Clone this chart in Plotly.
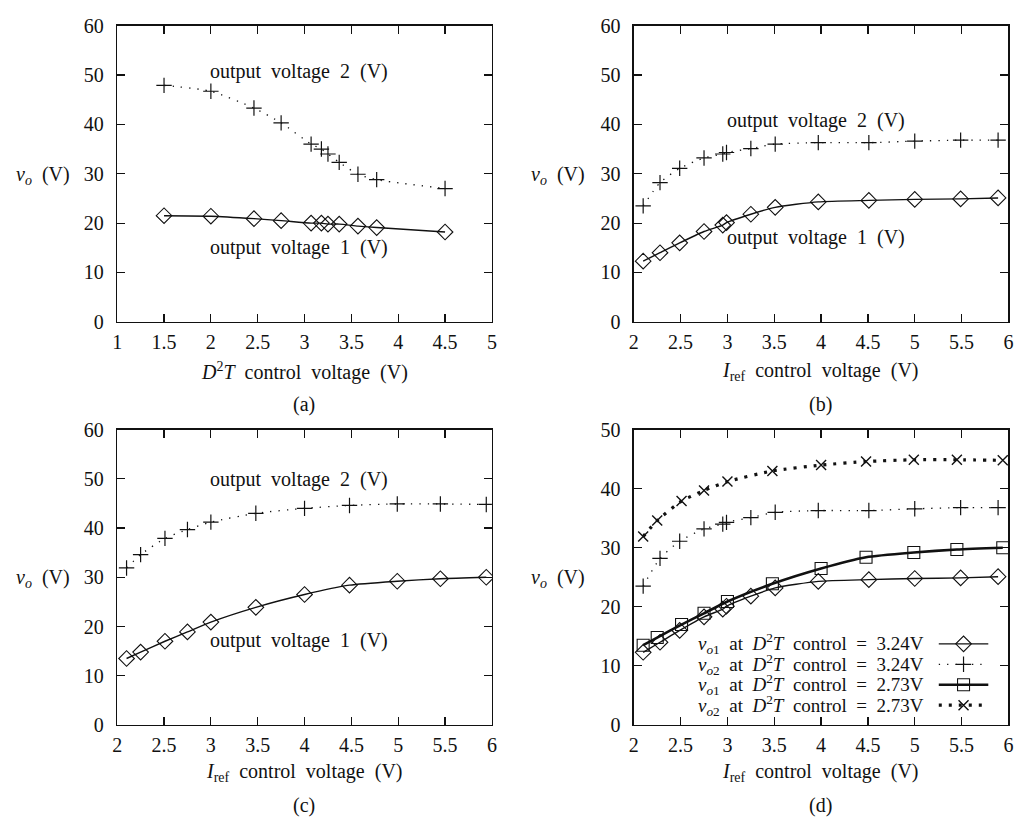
import plotly.graph_objects as go

# ---------------- data ----------------
# (a) vs D2T control voltage
a_x = [1.5, 2.0, 2.46, 2.75, 3.07, 3.18, 3.25, 3.37, 3.57, 3.77, 4.5]
a_v2 = [47.9, 46.7, 43.3, 40.3, 36.0, 35.0, 34.0, 32.3, 29.9, 28.8, 27.0]
a_v1 = [21.5, 21.4, 20.9, 20.5, 20.0, 20.0, 19.8, 19.8, 19.4, 19.1, 18.2]

# (b) vs Iref at D2T control = 3.24 V
b_x = [2.1, 2.28, 2.49, 2.75, 2.95, 2.99, 3.25, 3.51, 3.97, 4.51, 5.0, 5.49, 5.89]
b_v2 = [23.5, 28.2, 31.1, 33.2, 34.0, 34.3, 35.1, 36.0, 36.3, 36.3, 36.6, 36.8, 36.8]
b_v1 = [12.3, 14.0, 16.0, 18.3, 19.6, 20.1, 21.8, 23.2, 24.3, 24.6, 24.8, 24.9, 25.1]

# (c) vs Iref at D2T control = 2.73 V
c_x = [2.1, 2.25, 2.51, 2.75, 3.0, 3.48, 4.0, 4.48, 4.99, 5.45, 5.94]
c_v2 = [31.9, 34.6, 37.9, 39.7, 41.2, 43.0, 44.0, 44.6, 44.9, 44.9, 44.8]
c_v1 = [13.5, 14.8, 17.0, 18.9, 20.9, 23.9, 26.5, 28.4, 29.2, 29.7, 30.0]

x_ticks_a = [1, 1.5, 2, 2.5, 3, 3.5, 4, 4.5, 5]
x_ticks_b = [2, 2.5, 3, 3.5, 4, 4.5, 5, 5.5, 6]

legend_labels = [
    "<i>v</i><sub><i>o</i>1</sub>  at  <i>D</i><sup>2</sup><i>T</i>  control  =  3.24V",
    "<i>v</i><sub><i>o</i>2</sub>  at  <i>D</i><sup>2</sup><i>T</i>  control  =  3.24V",
    "<i>v</i><sub><i>o</i>1</sub>  at  <i>D</i><sup>2</sup><i>T</i>  control  =  2.73V",
    "<i>v</i><sub><i>o</i>2</sub>  at  <i>D</i><sup>2</sup><i>T</i>  control  =  2.73V",
]

# ---------------- styles ----------------
FONT = "Liberation Serif"
W, H = 1023, 833
BLACK = "#111111"
FS = 20

s_v1 = dict(mode="lines+markers", line=dict(color=BLACK, width=1.4, shape="spline", smoothing=0.6),
            marker=dict(symbol="diamond-open", size=12, color=BLACK, line=dict(width=1.1, color=BLACK)))
s_v2 = dict(mode="lines+markers", line=dict(color=BLACK, width=1.3, dash="1.3px,7px", shape="spline", smoothing=0.6),
            marker=dict(symbol="cross-thin-open", size=11, color=BLACK, line=dict(width=1.2, color=BLACK)))
s_v1b = dict(mode="lines+markers", line=dict(color=BLACK, width=2.6, shape="spline", smoothing=0.6),
             marker=dict(symbol="square-open", size=12, color=BLACK, line=dict(width=1.1, color=BLACK)))
s_v2b = dict(mode="lines+markers", line=dict(color=BLACK, width=3.2, dash="3px,7px", shape="spline", smoothing=0.6),
             marker=dict(symbol="x-thin-open", size=10, color=BLACK, line=dict(width=1.4, color=BLACK)))

fig = go.Figure()

def px_x(p):
    return p / W

def px_y(p):
    return 1 - p / H

X_L = [113.3, 635.0]
X_R = [491.7, 1013.3]
Y_T = [15.0, 430.0]
Y_B = [319.3, 733.3]

panels = [  # (axis idx, col, row, xrange, xticks, yrange, yticks)
    (1, 0, 0, [1, 5], x_ticks_a, [0, 60], list(range(0, 61, 10))),
    (2, 1, 0, [2, 6], x_ticks_b, [0, 60], list(range(0, 61, 10))),
    (3, 0, 1, [2, 6], x_ticks_b, [0, 60], list(range(0, 61, 10))),
    (4, 1, 1, [2, 6], x_ticks_b, [0, 50], list(range(0, 51, 10))),
]

axis_common = dict(showline=True, linecolor=BLACK, linewidth=1.4, mirror="allticks",
                   ticks="inside", ticklen=8, tickwidth=1.2, tickcolor=BLACK,
                   showgrid=False, zeroline=False, fixedrange=True,
                   tickfont=dict(family=FONT, size=FS, color=BLACK))

layout = {}
for idx, col, row, xr, xt, yr, yt in panels:
    xn = "xaxis" if idx == 1 else f"xaxis{idx}"
    yn = "yaxis" if idx == 1 else f"yaxis{idx}"
    layout[xn] = dict(axis_common, domain=[px_x(X_L[col]), px_x(X_R[col])], range=xr,
                      tickvals=xt, ticktext=[f"{v:g}" for v in xt],
                      anchor=f"y{'' if idx == 1 else idx}", ticklabelstandoff=2)
    layout[yn] = dict(axis_common, domain=[px_y(Y_B[row]), px_y(Y_T[row])], range=yr,
                      tickvals=yt, anchor=f"x{'' if idx == 1 else idx}", ticklabelstandoff=8)

# overlay axis for the legend key of panel (d)
layout["xaxis5"] = dict(domain=[px_x(X_L[1]), px_x(X_R[1])], range=[0, 1], visible=False,
                        anchor="y5", overlaying="x4", fixedrange=True)
layout["yaxis5"] = dict(domain=[px_y(Y_B[1]), px_y(Y_T[1])], range=[0, 1], visible=False,
                        anchor="x5", overlaying="y4", fixedrange=True)

# traces
fig.add_trace(go.Scatter(x=a_x, y=a_v2, xaxis="x", yaxis="y", **s_v2))
fig.add_trace(go.Scatter(x=a_x, y=a_v1, xaxis="x", yaxis="y", **s_v1))
fig.add_trace(go.Scatter(x=b_x, y=b_v2, xaxis="x2", yaxis="y2", **s_v2))
fig.add_trace(go.Scatter(x=b_x, y=b_v1, xaxis="x2", yaxis="y2", **s_v1))
fig.add_trace(go.Scatter(x=c_x, y=c_v2, xaxis="x3", yaxis="y3", **s_v2))
fig.add_trace(go.Scatter(x=c_x, y=c_v1, xaxis="x3", yaxis="y3", **s_v1))
fig.add_trace(go.Scatter(x=c_x, y=c_v2, xaxis="x4", yaxis="y4", **s_v2b))
fig.add_trace(go.Scatter(x=b_x, y=b_v2, xaxis="x4", yaxis="y4", **s_v2))
fig.add_trace(go.Scatter(x=c_x, y=c_v1, xaxis="x4", yaxis="y4", **s_v1b))
fig.add_trace(go.Scatter(x=b_x, y=b_v1, xaxis="x4", yaxis="y4", **s_v1))

# legend key (panel d), text right-aligned, sample at right
key_rows_px = [650, 671, 692, 713]
key_text_right_px = 930
key_line_px = [943, 993]
key_styles = [s_v1, s_v2, s_v1b, s_v2b]
annotations = []
pw = X_R[1] - X_L[1]
ph = Y_B[1] - Y_T[1]
for lab, rp, st in zip(legend_labels, key_rows_px, key_styles):
    yy = (Y_B[1] - rp) / ph
    x0 = (key_line_px[0] - X_L[1]) / pw
    x1 = (key_line_px[1] - X_L[1]) / pw
    xm = (x0 + x1) / 2
    line = dict(st["line"]); line.pop("shape", None); line.pop("smoothing", None)
    fig.add_trace(go.Scatter(x=[x0, x1], y=[yy, yy], mode="lines", line=line,
                             xaxis="x5", yaxis="y5", hoverinfo="skip"))
    fig.add_trace(go.Scatter(x=[xm], y=[yy], mode="markers", marker=st["marker"],
                             xaxis="x5", yaxis="y5", hoverinfo="skip"))
    annotations.append(dict(x=px_x(key_text_right_px), y=px_y(rp), xref="paper", yref="paper",
                            text=lab, showarrow=False, xanchor="right", yanchor="middle",
                            font=dict(family=FONT, size=19, color=BLACK)))

def ann(text, x, y, size=FS, xanchor="center"):
    annotations.append(dict(x=px_x(x), y=px_y(y), xref="paper", yref="paper", text=text,
                            showarrow=False, xanchor=xanchor, yanchor="middle",
                            font=dict(family=FONT, size=size, color=BLACK)))

# in-plot labels
ann("output  voltage  2  (V)", 297, 62)
ann("output  voltage  1  (V)", 297, 243)
ann("output  voltage  2  (V)", 819, 112)
ann("output  voltage  1  (V)", 819, 233)
ann("output  voltage  2  (V)", 297, 481)
ann("output  voltage  1  (V)", 297, 647)

# y labels
vo = "<i>v</i><sub><i>o</i></sub>  (V)"
ann(vo, 38, 169)
ann(vo, 558, 169)
ann(vo, 38, 583)
ann(vo, 558, 583)

# x titles
d2t = "<i>D</i><sup>2</sup><i>T</i>  control  voltage  (V)"
iref = "<i>I</i><sub>ref</sub>  control  voltage  (V)"
ann(d2t, 302, 370)
ann(iref, 824, 370)
ann(iref, 302, 782)
ann(iref, 824, 782)

# panel letters
ann("(a)", 302, 404)
ann("(b)", 824, 404)
ann("(c)", 302, 816)
ann("(d)", 824, 816)

fig.update_layout(**layout)
fig.update_layout(width=W, height=H, margin=dict(l=0, r=0, t=0, b=0),
                  paper_bgcolor="white", plot_bgcolor="white", showlegend=False,
                  annotations=annotations, font=dict(family=FONT, color=BLACK))

fig.write_html("out.html", config={"displayModeBar": False, "staticPlot": True},
               post_script="document.body.style.margin='0px';document.body.style.overflow='hidden';")
